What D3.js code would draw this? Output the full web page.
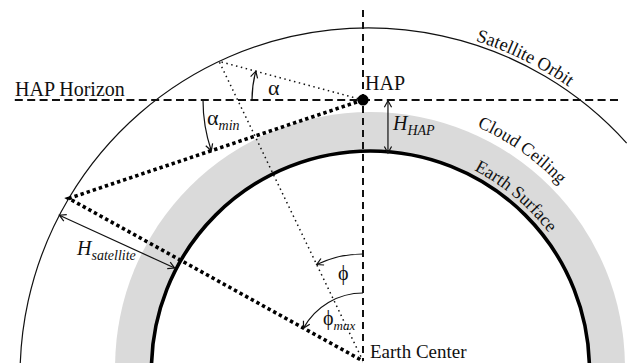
<!DOCTYPE html>
<html>
<head>
<meta charset="utf-8">
<script src="https://cdn.jsdelivr.net/npm/d3@7"></script>
<style>
  html, body { margin: 0; padding: 0; background: #fff; }
  svg { display: block; }
  text { font-family: "Liberation Serif", "Times New Roman", serif; fill: #111; }
</style>
</head>
<body>
<svg id="fig" width="637" height="363"></svg>
<script>
// Geometry in Earth radii, origin at the Earth centre, y pointing up.
const ringNames   = ["Cloud Ceiling", "Earth Surface", "Satellite Orbit"];
const ringRadius  = [1.164, 1.0, 1.589];
const ringCentreX = [0.032, 0.034, 0.023];
const ringCentreY = [-0.027, -0.041, -0.068];
const orbitSpanDeg = [-95, 48];            // drawn part of the orbit, bearing from the top
const hapHeight    = 1.192;                // HAP on the vertical through the Earth centre
const elevationDeg = [15, -18.5];          // α (visible satellite), α_min (lowest usable)
const horizonExtent = [-1.59, 1.165];      // ends of the HAP horizon line
const zenithTop = 1.603;                   // top of the vertical through HAP
const hHapX = 0.114;                       // where the H_HAP span is measured
const hSatBearing = -62.5;                 // where the H_satellite span is measured

const W = 637, H = 363;
const x = d3.scaleLinear().domain([0, 1]).range([363, 582]);
const y = d3.scaleLinear().domain([0, 1]).range([361, 142]);
const k = x(1) - x(0);
const rad = d => d * Math.PI / 180;

const svg = d3.select("#fig");
const defs = svg.append("defs");
defs.append("marker")
  .attr("id", "head").attr("viewBox", "-8 -5 10 10")
  .attr("markerWidth", 10).attr("markerHeight", 10)
  .attr("markerUnits", "userSpaceOnUse")
  .attr("refX", 0).attr("refY", 0)
  .attr("orient", "auto-start-reverse")
  .append("path").attr("d", "M-6.5,-3.6L0,0L-6.5,3.6")
  .attr("fill", "none").attr("stroke", "#111").attr("stroke-width", 1.2);

const ring = i => ({ cx: ringCentreX[i], cy: ringCentreY[i], r: ringRadius[i] });
const cloud = ring(0), earth = ring(1), orbit = ring(2);

// distance along a ray (model units) to a ring
function hitRing(px, py, dx, dy, c) {
  const fx = px - c.cx, fy = py - c.cy;
  const b = fx * dx + fy * dy, q = fx * fx + fy * fy - c.r * c.r;
  return -b + Math.sqrt(b * b - q);
}

const hap = [0, hapHeight];
const centre = [0, 0];
const sats = elevationDeg.map(e => {
  const dx = -Math.cos(rad(e)), dy = Math.sin(rad(e));
  const t = hitRing(hap[0], hap[1], dx, dy, orbit);
  return [hap[0] + t * dx, hap[1] + t * dy];
});

// cloud layer band and Earth
svg.append("circle").attr("cx", x(cloud.cx)).attr("cy", y(cloud.cy)).attr("r", cloud.r * k)
  .attr("fill", "#dadada");
svg.append("circle").attr("cx", x(earth.cx)).attr("cy", y(earth.cy)).attr("r", earth.r * k)
  .attr("fill", "#fff").attr("stroke", "#000").attr("stroke-width", 3.6);

// satellite orbit
const op = d3.path();
op.arc(x(orbit.cx), y(orbit.cy), orbit.r * k, rad(orbitSpanDeg[0] - 90), rad(orbitSpanDeg[1] - 90));
svg.append("path").attr("d", op.toString()).attr("fill", "none")
  .attr("stroke", "#111").attr("stroke-width", 1.2);

const line = d3.line().x(d => x(d[0])).y(d => y(d[1]));

// horizon and local vertical
svg.append("path").attr("d", line([[horizonExtent[0], hapHeight], [horizonExtent[1], hapHeight]]))
  .attr("stroke", "#111").attr("stroke-width", 2).attr("stroke-dasharray", "8,4.4");
svg.append("path").attr("d", line([[0, zenithTop], centre]))
  .attr("stroke", "#111").attr("stroke-width", 2).attr("stroke-dasharray", "7,5");

// line of sight to a visible satellite and to the lowest one
svg.append("path").attr("d", line([hap, sats[0], centre])).attr("fill", "none")
  .attr("stroke", "#111").attr("stroke-width", 1.5).attr("stroke-dasharray", "1.5,3.5");
svg.append("path").attr("d", line([hap, sats[1], centre])).attr("fill", "none")
  .attr("stroke", "#000").attr("stroke-width", 3.6).attr("stroke-dasharray", "3.4,3");

svg.append("circle").attr("cx", x(hap[0])).attr("cy", y(hap[1])).attr("r", 5.6).attr("fill", "#000");

// angle arrows
function angleArrow(c, rPx, fromAng, toAng) {
  const p = d3.path();
  p.arc(x(c[0]), y(c[1]), rPx, fromAng, toAng, toAng < fromAng);
  svg.append("path").attr("d", p.toString()).attr("fill", "none")
    .attr("stroke", "#111").attr("stroke-width", 1.2).attr("marker-end", "url(#head)");
}
const screenAng = (from, to) => Math.atan2(y(to[1]) - y(from[1]), x(to[0]) - x(from[0]));
angleArrow(hap, 111, Math.PI, screenAng(hap, sats[0]) + 2 * Math.PI);
angleArrow(hap, 160, Math.PI, screenAng(hap, sats[1]));
angleArrow(centre, 107, -Math.PI / 2, screenAng(centre, sats[0]));
angleArrow(centre, 68, -Math.PI / 2, screenAng(centre, sats[1]));

// height spans
function span(a, b) {
  svg.append("path").attr("d", line([a, b])).attr("stroke", "#111").attr("stroke-width", 1.2)
    .attr("marker-start", "url(#head)").attr("marker-end", "url(#head)");
}
{
  const tEarth = hitRing(hHapX, 0, 0, 1, earth);
  span([hHapX, hapHeight - 0.004], [hHapX, tEarth - 0.006]);
  const dx = Math.sin(rad(hSatBearing)), dy = Math.cos(rad(hSatBearing));
  const a = [orbit.cx + orbit.r * dx, orbit.cy + orbit.r * dy];
  const b = [earth.cx + (earth.r + 0.008) * dx, earth.cy + (earth.r + 0.008) * dy];
  span(a, b);
}

// labels along the rings
function ringLabel(id, c, rPx, startDeg, txt, size) {
  const p = d3.path();
  p.arc(x(c.cx), y(c.cy), rPx, rad(startDeg - 90), rad(startDeg + 60 - 90));
  defs.append("path").attr("id", id).attr("d", p.toString());
  svg.append("text").attr("font-size", size)
    .append("textPath").attr("href", "#" + id).text(txt);
}
ringLabel("orbitPath", orbit, orbit.r * k + 4, 17.8, ringNames[2], 18.5);
ringLabel("cloudPath", cloud, cloud.r * k + 8, 24.0, ringNames[0], 18);
ringLabel("earthPath", earth, earth.r * k + 6, 27.4, ringNames[1], 18);

// plain labels
svg.append("text").attr("x", 15).attr("y", 96).attr("font-size", 20).text("HAP Horizon");
svg.append("text").attr("x", x(hap[0]) + 2).attr("y", y(hap[1]) - 10).attr("font-size", 20).text("HAP");
svg.append("text").attr("x", x(0) + 7).attr("y", 358).attr("font-size", 19).text("Earth Center");

function subLabel(px, py, main, sub, mainSize, subSize, italicMain) {
  const t = svg.append("text").attr("x", px).attr("y", py);
  t.append("tspan").attr("font-size", mainSize).attr("font-style", italicMain ? "italic" : null).text(main);
  if (sub) t.append("tspan").attr("font-size", subSize).attr("font-style", "italic").attr("dy", 5).text(sub);
}
subLabel(393, 130, "H", "HAP", 20, 14, true);
subLabel(77, 255, "H", "satellite", 20, 14, true);
subLabel(207, 125, "α", "min", 22, 14, false);
subLabel(268, 95, "α", null, 22, 14, false);
subLabel(338, 280, "ϕ", null, 20, 14, false);
subLabel(323, 325, "ϕ", "max", 20, 13, false);
</script>
</body>
</html>
